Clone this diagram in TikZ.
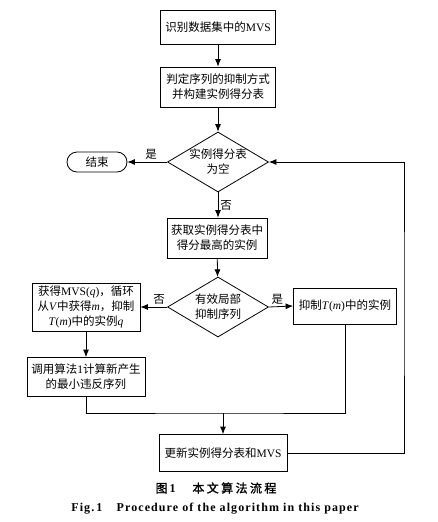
\documentclass[tikz,border=0pt]{standalone}
\usepackage{fontspec}
\setmainfont{Liberation Serif}
\newfontfamily\cjk{Noto Sans CJK SC}
\newfontfamily\cjkcap[FakeBold=1.5,LetterSpace=20]{Noto Sans CJK SC}
\newfontfamily\capfont[LetterSpace=9]{Liberation Serif}
\usetikzlibrary{shapes.geometric,arrows.meta}

\begin{document}
\begin{tikzpicture}[x=1pt,y=-1pt,line width=0.8pt,>={Latex[length=7.5pt,width=6pt]}]
	\tikzstyle{box}=[draw=black,rectangle,align=center,inner sep=2pt,font=\fontsize{11.5}{15}\selectfont]
	\tikzstyle{test}=[draw=black,diamond,aspect=1.7,inner sep=0pt,align=center,minimum width=101pt,minimum height=60pt,font=\fontsize{11.5}{15}\selectfont]
	\tikzstyle{tag}=[font=\fontsize{11.5}{14}\selectfont\cjk,inner sep=2pt]
	\useasboundingbox (0,0) rectangle (437,522);
	\node[box,minimum width=115pt,minimum height=34pt](mvs) at (218,27) {{\cjk 识别数据集中的}MVS};
	\node[box,minimum width=115pt,minimum height=40pt](tab) at (218,87) {\cjk 判定序列的抑制方式\\\cjk 并构建实例得分表};
	\node[test](empty) at (218,162) {\cjk 实例得分表\\\cjk 为空};
	\node[box,rounded corners=10pt,minimum width=60pt,minimum height=20pt](stop) at (97,162) {\cjk 结束};
	\node[box,minimum width=100pt,minimum height=40pt](top) at (217,238) {\cjk 获取实例得分表中\\\cjk 得分最高的实例};
	\node[test](valid) at (218,307) {\cjk 有效局部\\\cjk 抑制序列};
	\node[box,minimum width=108pt,minimum height=48pt](getq) at (86,307) {{\cjk 获得}MVS(\textit{q}){\cjk ，循环}\\{\cjk 从}\textit{V}{\cjk 中获得}\textit{m}{\cjk ，抑制}\\\textit{T}(\textit{m}){\cjk 中的实例}\textit{q}};
	\node[box,minimum width=103pt,minimum height=36pt](sup) at (345,306) {{\cjk 抑制}\textit{T}(\textit{m}){\cjk 中的实例}};
	\node[box,minimum width=118pt,minimum height=39pt](calc) at (86,377) {{\cjk 调用算法}1{\cjk 计算新产生}\\\cjk 的最小违反序列};
	\node[box,minimum width=128pt,minimum height=37pt](upd) at (223,453) {{\cjk 更新实例得分表和}MVS};
	\coordinate(join) at (223,413);
	\coordinate(back) at (404,300);
	\draw[->](mvs) -- (tab);
	\draw[->](tab) -- (empty);
	\draw[->](empty.west) -- node[tag,above,pos=0.4] {是} (stop.east);
	\draw[->](empty.south) -- node[tag,right] {否} (top.north -| empty.south);
	\draw[->](top) -- (valid);
	\draw[->](valid.west) -- node[tag,above,pos=0.3] {否} (getq.east);
	\draw[->](valid.east) -- node[tag,above,pos=0.35] {是} (sup.west);
	\draw[->](getq) -- (calc);
	\draw(calc.south) |- (join) -| (sup.south);
	\draw[->](join) -- (upd);
	\draw[->](upd.east) -| (back) |- (empty.east);
	% caption
	\node[font=\fontsize{12}{14}\selectfont](cap1) at (216,488) {{\cjkcap 图}\,\textbf{1}\hspace{1.4em}{\cjkcap 本文算法流程}};
	\node[font=\fontsize{12}{14}\selectfont\capfont\bfseries](cap2) at (215,509) {Fig.\,1\hspace{1.2em}Procedure of the algorithm in this paper};
\end{tikzpicture}
\end{document}
